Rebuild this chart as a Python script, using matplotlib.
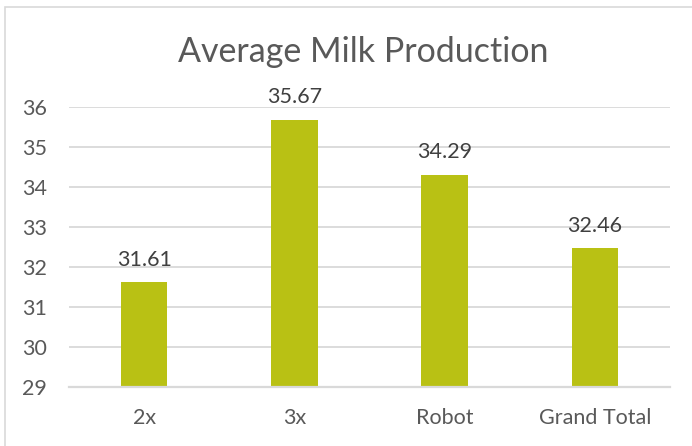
import matplotlib
matplotlib.use("Agg")
import matplotlib.pyplot as plt
from matplotlib.patches import Rectangle

categories = ["2x", "3x", "Robot", "Grand Total"]
values = [31.61, 35.67, 34.29, 32.46]
yticks = [29, 30, 31, 32, 33, 34, 35, 36]
title = "Average Milk Production"

W, H = 692, 446
plt.rcParams['font.family'] = ['Lato', 'DejaVu Sans']
fig = plt.figure(figsize=(W / 100, H / 100), dpi=100)
ax = fig.add_axes([69 / W, 1 - 386.7 / H, (670 - 69) / W, (386.7 - 106.7) / H])

bar_color = "#b9c114"
text_gray = "#595959"
grid_gray = "#d9d9d9"

x = list(range(len(categories)))
bars = ax.bar(x, values, width=0.31, color=bar_color, zorder=3)
ax.set_xlim(-0.5, len(categories) - 0.5)
ax.set_ylim(29, 36)
ax.set_yticks(yticks)
ax.set_yticklabels([str(t) for t in yticks])
ax.set_xticks(x)
ax.set_xticklabels(categories)
ax.tick_params(axis='both', length=0, labelsize=15.5, colors=text_gray)
ax.tick_params(axis='y', pad=16)
ax.tick_params(axis='x', pad=15.5)
ax.grid(axis='y', color=grid_gray, linewidth=1.3, zorder=0)
for s in ["top", "right", "left"]:
    ax.spines[s].set_visible(False)
ax.spines["bottom"].set_color(grid_gray)
ax.spines["bottom"].set_linewidth(1.6)
ax.spines["bottom"].set_zorder(4)

for xi, v in zip(x, values):
    ax.annotate(f"{v:.2f}", (xi, v), xytext=(0, 12), textcoords="offset points",
                ha="center", va="baseline", fontsize=15.5, color="#404040",
                annotation_clip=False)

fig.text(363 / W, 1 - 52 / H, title, ha="center", va="center",
         fontsize=24.5, color=text_gray)

fig.add_artist(Rectangle((4.5 / W, -0.1), 1.2, 1.1 - 6.5 / H, transform=fig.transFigure,
                         fill=False, edgecolor=grid_gray, linewidth=1.2))

fig.savefig("out.png", dpi=100)
